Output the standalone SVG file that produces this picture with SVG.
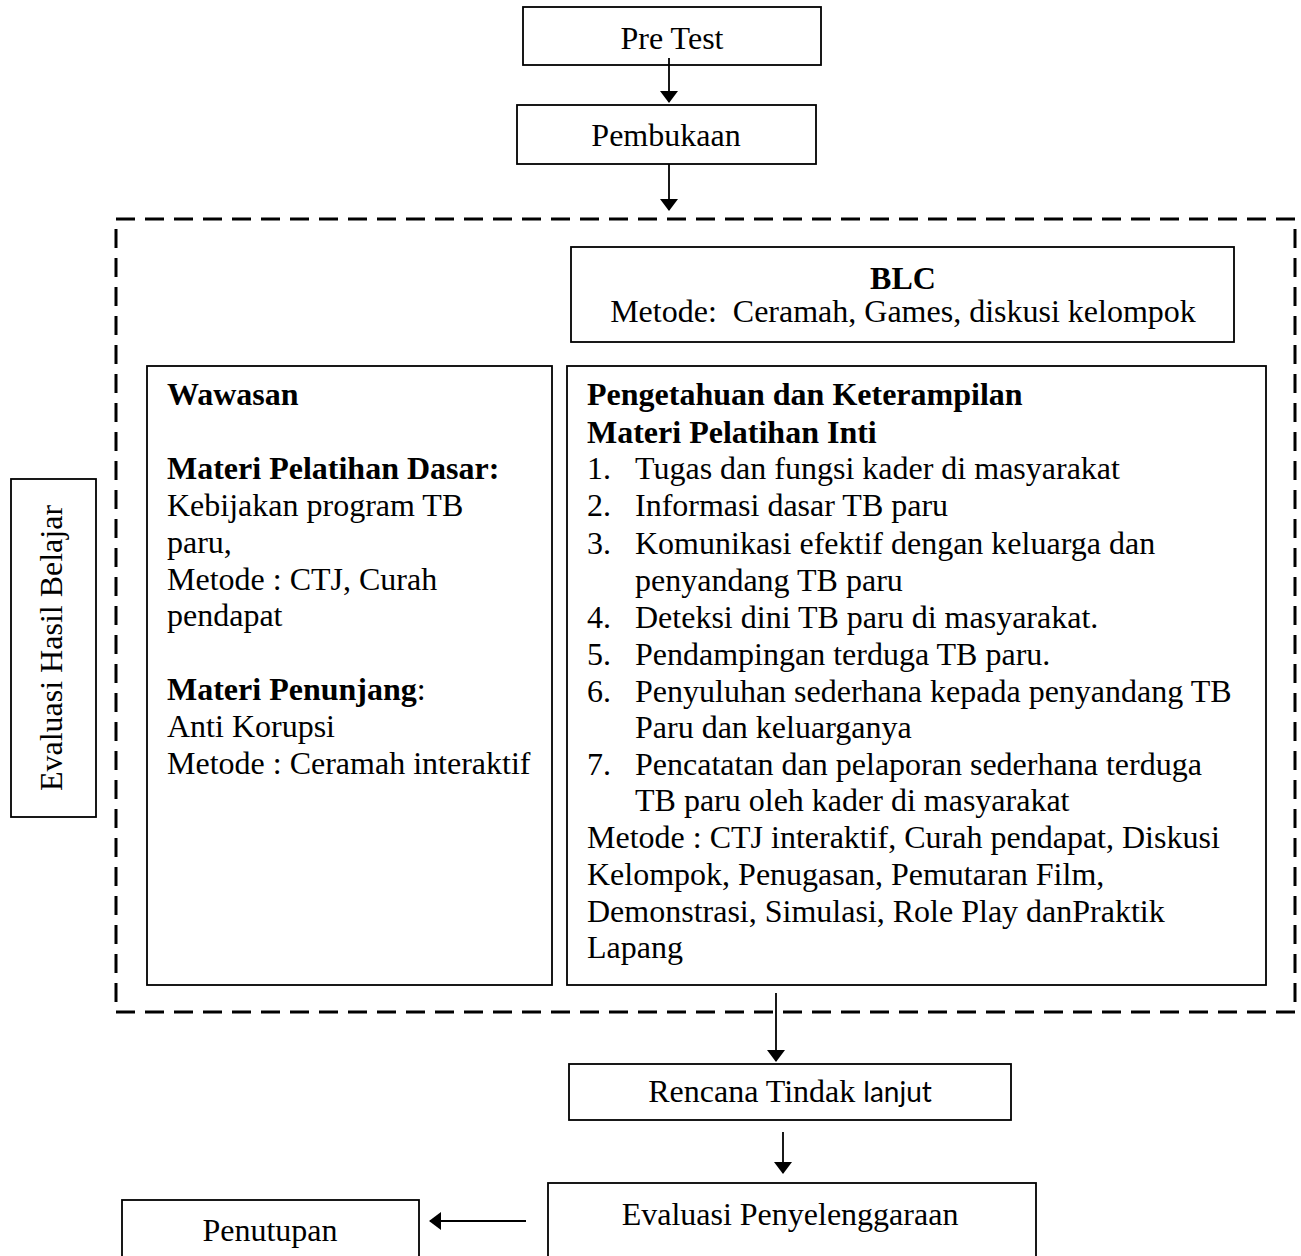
<svg xmlns="http://www.w3.org/2000/svg" width="1301" height="1256" viewBox="0 0 1301 1256">
<style>
.box{fill:#fff;stroke:#000;stroke-width:1.8}
.t{font-family:"Liberation Serif","Times New Roman",serif;font-size:32px;fill:#000}
.c{text-anchor:middle}
.b{font-weight:bold}
.con{stroke:#000;stroke-width:1.8;fill:none}
.dash{fill:none;stroke:#000;stroke-width:3;stroke-dasharray:19 10}
</style>
<defs>
<marker id="ah" markerWidth="12" markerHeight="18" refX="11" refY="9" orient="auto" markerUnits="userSpaceOnUse">
<path d="M0,0 L12,9 L0,18 Z" fill="#000"/>
</marker>
</defs>
<rect width="1301" height="1256" fill="#fff"/>

<g id="frame">
<rect class="dash" x="116" y="219" width="1179" height="793"/>
</g>

<g id="pretest">
<rect class="box" x="523" y="7" width="298" height="58"/>
<text class="t c" x="672" y="49">Pre Test</text>
</g>
<g id="pembukaan">
<rect class="box" x="517" y="105" width="299" height="59"/>
<text class="t c" x="666" y="146">Pembukaan</text>
</g>
<g id="blc">
<rect class="box" x="571" y="247" width="663" height="95"/>
<text class="t c b" x="903" y="289">BLC</text>
<text class="t c" x="903" y="322" xml:space="preserve">Metode:  Ceramah, Games, diskusi kelompok</text>
</g>
<g id="evaluasi-hasil">
<rect class="box" x="11" y="479" width="85" height="338"/>
<text class="t c" transform="translate(62,648) rotate(-90)">Evaluasi Hasil Belajar</text>
</g>
<g id="wawasan">
<rect class="box" x="147" y="366" width="405" height="619"/>
<text class="t b" x="167" y="405">Wawasan</text>
<text class="t b" x="167" y="479">Materi Pelatihan Dasar:</text>
<text class="t" x="167" y="516">Kebijakan program TB</text>
<text class="t" x="167" y="553">paru,</text>
<text class="t" x="167" y="590">Metode : CTJ, Curah</text>
<text class="t" x="167" y="626">pendapat</text>
<text class="t" x="167" y="700"><tspan class="b">Materi Penunjang</tspan>:</text>
<text class="t" x="167" y="737">Anti Korupsi</text>
<text class="t" x="167" y="774">Metode : Ceramah interaktif</text>
</g>
<g id="inti">
<rect class="box" x="567" y="366" width="699" height="619"/>
<text class="t b" x="587" y="405">Pengetahuan dan Keterampilan</text>
<text class="t b" x="587" y="443">Materi Pelatihan Inti</text>
<text class="t" x="587" y="479">1.</text><text class="t" x="635" y="479">Tugas dan fungsi kader di masyarakat</text>
<text class="t" x="587" y="516">2.</text><text class="t" x="635" y="516">Informasi dasar TB paru</text>
<text class="t" x="587" y="554">3.</text><text class="t" x="635" y="554">Komunikasi efektif dengan keluarga dan</text>
<text class="t" x="635" y="591">penyandang TB paru</text>
<text class="t" x="587" y="628">4.</text><text class="t" x="635" y="628">Deteksi dini TB paru di masyarakat.</text>
<text class="t" x="587" y="665">5.</text><text class="t" x="635" y="665">Pendampingan terduga TB paru.</text>
<text class="t" x="587" y="702">6.</text><text class="t" x="635" y="702">Penyuluhan sederhana kepada penyandang TB</text>
<text class="t" x="635" y="738">Paru dan keluarganya</text>
<text class="t" x="587" y="775">7.</text><text class="t" x="635" y="775">Pencatatan dan pelaporan sederhana terduga</text>
<text class="t" x="635" y="811">TB paru oleh kader di masyarakat</text>
<text class="t" x="587" y="848">Metode : CTJ interaktif, Curah pendapat, Diskusi</text>
<text class="t" x="587" y="885">Kelompok, Penugasan, Pemutaran Film,</text>
<text class="t" x="587" y="922">Demonstrasi, Simulasi, Role Play danPraktik</text>
<text class="t" x="587" y="958">Lapang</text>
</g>
<g id="rtl">
<rect class="box" x="569" y="1064" width="442" height="56"/>
<text class="t c" x="790" y="1102">Rencana Tindak <tspan style="font-family:Lato,'Open Sans',sans-serif;font-size:28px">lanjut</tspan></text>
</g>
<g id="evaluasi-penyelenggaraan">
<rect class="box" x="548" y="1183" width="488" height="90"/>
<text class="t c" x="790" y="1225">Evaluasi Penyelenggaraan</text>
</g>
<g id="penutupan">
<rect class="box" x="122" y="1200" width="297" height="70"/>
<text class="t c" x="270" y="1241">Penutupan</text>
</g>

<g id="connectors">
<line class="con" x1="669" y1="58" x2="669" y2="102" marker-end="url(#ah)"/>
<line class="con" x1="669" y1="164" x2="669" y2="210" marker-end="url(#ah)"/>
<line class="con" x1="776" y1="993" x2="776" y2="1061" marker-end="url(#ah)"/>
<line class="con" x1="783" y1="1132" x2="783" y2="1173" marker-end="url(#ah)"/>
<line class="con" x1="526" y1="1221" x2="430" y2="1221" marker-end="url(#ah)"/>
</g>
</svg>
